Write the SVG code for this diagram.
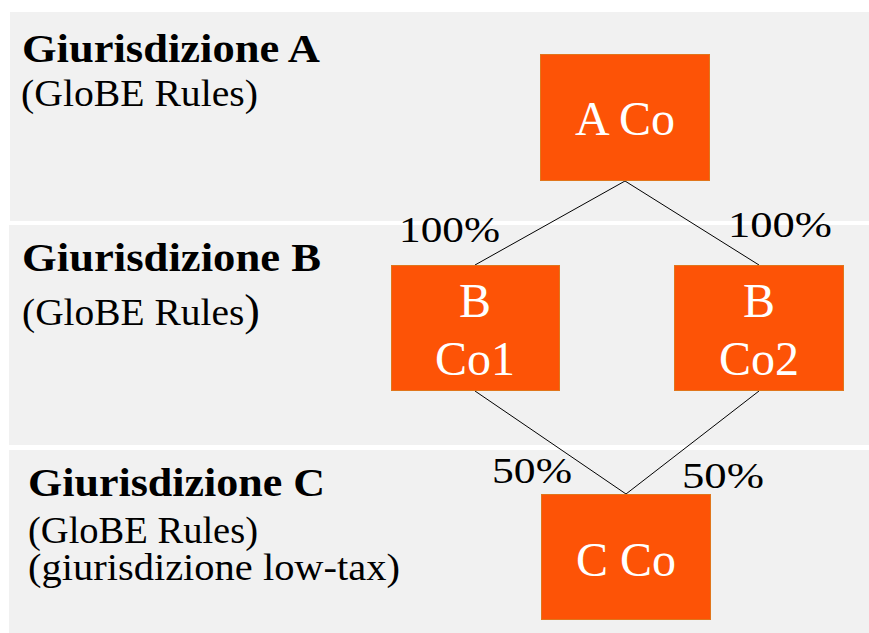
<svg xmlns="http://www.w3.org/2000/svg" width="869" height="633" viewBox="0 0 869 633">
  <style>
    .band { fill: #f1f1f1; }
    .box { fill: #fd5306; stroke: #e0761c; stroke-width: 1; }
    .node-label { font-family: "Liberation Serif", "Times New Roman", serif; font-size: 48px; fill: #ffffff; text-anchor: middle; }
    .title { font-family: "Liberation Serif", "Times New Roman", serif; font-size: 41px; font-weight: bold; fill: #000000; }
    .sub { font-family: "Liberation Serif", "Times New Roman", serif; font-size: 37px; fill: #000000; }
    .pct { font-family: "Liberation Serif", "Times New Roman", serif; font-size: 36px; fill: #000000; }
    .edge { stroke: #000000; stroke-width: 1; fill: none; }
  </style>

  <rect width="869" height="633" fill="#ffffff"/>

  <!-- jurisdiction bands -->
  <g id="band-a">
    <rect class="band" x="10" y="12" width="859" height="209"/>
    <text class="title" x="22" y="62" textLength="298" lengthAdjust="spacingAndGlyphs">Giurisdizione A</text>
    <text class="sub" x="21" y="106" textLength="237" lengthAdjust="spacingAndGlyphs">(GloBE Rules)</text>
  </g>
  <g id="band-b">
    <rect class="band" x="9" y="225" width="860" height="220"/>
    <text class="title" x="22" y="271" textLength="299" lengthAdjust="spacingAndGlyphs">Giurisdizione B</text>
    <text class="sub" x="22" y="325" textLength="238" lengthAdjust="spacingAndGlyphs">(GloBE Rules<tspan font-size="44px">)</tspan></text>
  </g>
  <g id="band-c">
    <rect class="band" x="9" y="450" width="860" height="183"/>
    <text class="title" x="28" y="496" textLength="297" lengthAdjust="spacingAndGlyphs">Giurisdizione C</text>
    <text class="sub" x="28" y="543" textLength="230" lengthAdjust="spacingAndGlyphs">(GloBE Rules)</text>
    <text class="sub" x="28" y="580" textLength="372" lengthAdjust="spacingAndGlyphs">(giurisdizione low-tax)</text>
  </g>

  <!-- ownership connectors -->
  <g id="connectors">
    <line class="edge" x1="625" y1="181" x2="475" y2="265"/>
    <line class="edge" x1="625" y1="181" x2="759" y2="265"/>
    <line class="edge" x1="475" y1="391" x2="626" y2="494"/>
    <line class="edge" x1="759" y1="391" x2="626" y2="494"/>
    <text class="pct" x="399" y="242" textLength="101" lengthAdjust="spacingAndGlyphs">100%</text>
    <text class="pct" x="728" y="237" textLength="104" lengthAdjust="spacingAndGlyphs">100%</text>
    <text class="pct" x="492" y="483" textLength="80" lengthAdjust="spacingAndGlyphs">50%</text>
    <text class="pct" x="682" y="488" textLength="82" lengthAdjust="spacingAndGlyphs">50%</text>
  </g>

  <!-- companies -->
  <g id="node-a-co">
    <rect class="box" x="540.5" y="54.5" width="169" height="126"/>
    <text class="node-label" x="625" y="135">A Co</text>
  </g>
  <g id="node-b-co1">
    <rect class="box" x="391.5" y="265.5" width="168" height="125"/>
    <text class="node-label" x="475" y="317">B</text>
    <text class="node-label" x="475" y="375">Co1</text>
  </g>
  <g id="node-b-co2">
    <rect class="box" x="674.5" y="265.5" width="169" height="125"/>
    <text class="node-label" x="759" y="317">B</text>
    <text class="node-label" x="759" y="375">Co2</text>
  </g>
  <g id="node-c-co">
    <rect class="box" x="541.5" y="494.5" width="169" height="125"/>
    <text class="node-label" x="626" y="576">C Co</text>
  </g>
</svg>
